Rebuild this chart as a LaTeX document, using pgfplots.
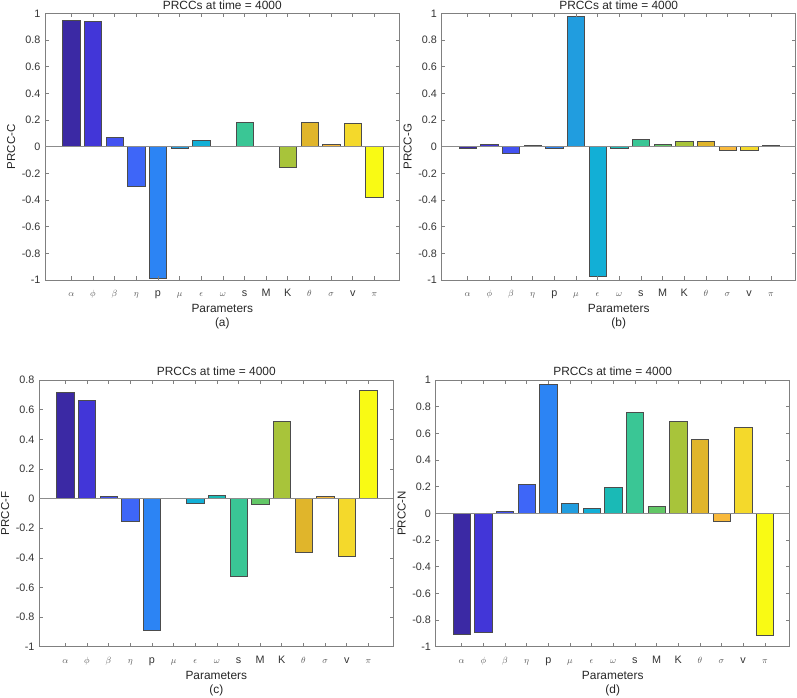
\documentclass[border=0pt]{standalone}
\usepackage{pgfplots}
\pgfplotsset{compat=1.18}
\usepackage{fontspec}
\setmainfont{Liberation Sans}

\definecolor{c1}{HTML}{3B29A4}
\definecolor{c2}{HTML}{4236D8}
\definecolor{c3}{HTML}{4352F1}
\definecolor{c4}{HTML}{3E66F8}
\definecolor{c5}{HTML}{2C84F4}
\definecolor{c6}{HTML}{219DDF}
\definecolor{c7}{HTML}{12AFD6}
\definecolor{c8}{HTML}{1ABAB6}
\definecolor{c9}{HTML}{3AC695}
\definecolor{c10}{HTML}{62C766}
\definecolor{c11}{HTML}{A8C43A}
\definecolor{c12}{HTML}{E0B52B}
\definecolor{c13}{HTML}{F8B93C}
\definecolor{c14}{HTML}{F4D92B}
\definecolor{c15}{HTML}{F9FA14}

\newcommand\gk[1]{{\fontsize{9.5}{9.5}\selectfont\color{black!65}$#1$}}
\newcommand\br[3]{\addplot[ybar, bar width=0.8, bar shift=0pt, fill=#1, draw=black!70, line width=0.5pt] coordinates {(#2,#3)};}

\pgfplotsset{prcc/.style={
  width=354pt, height=266.6pt, scale only axis,
  anchor=south west,
  xmin=-0.2, xmax=16.15, ymin=-1, ymax=1,
  enlargelimits=false,
  axis on top,
  clip=false,
  xtick={1,...,15},
  xticklabels={\gk{\alpha},\gk{\phi},\gk{\beta},\gk{\eta},p,\gk{\mu},\gk{\epsilon},\gk{\omega},s,M,K,\gk{\theta},\gk{\sigma},v,\gk{\pi}},
  ytick={-1,-0.8,-0.6,-0.4,-0.2,0,0.2,0.4,0.6,0.8,1},
  /pgf/number format/assume math mode=true,
  tick align=inside, major tick length=3.5pt,
  axis line style={black!50, line width=0.6pt},
  every tick/.style={black!50, line width=0.6pt},
  extra y ticks={0}, extra y tick labels={},
  extra y tick style={grid=major, major grid style={black!45, line width=0.7pt}, major tick length=0pt},
  tick label style={font=\fontsize{10.8}{11}\selectfont, text=black!80},
  xticklabel style={anchor=base, yshift=-16.8pt},
  yticklabel style={anchor=east, inner sep=0pt, xshift=-4.6pt},
  title={PRCCs at time = 4000},
  every axis title shift=0pt,
  title style={font=\fontsize{11.9}{12}\selectfont, text=black!85, at={(axis description cs:0.5,1)}, anchor=base, yshift=4.2pt},
  xlabel={Parameters},
  xlabel style={font=\fontsize{11.9}{12}\selectfont, text=black!85, at={(axis description cs:0.5,0)}, anchor=base, yshift=-32.4pt},
  ylabel style={font=\fontsize{11.5}{12}\selectfont, text=black!85, at={(axis description cs:-0.0853,0.5)}, anchor=base},
}}
\newcommand\sub[1]{\node[font=\fontsize{11.9}{12}\selectfont, text=black!85, anchor=base, yshift=-46.5pt] at (axis description cs:0.5,0) {#1};}

\begin{document}
\begin{tikzpicture}
% (a)
\begin{axis}[prcc, at={(45.3pt,418pt)}, ylabel={PRCC-C}]
\br{c1}{1}{0.948}
\br{c2}{2}{0.940}
\br{c3}{3}{0.072}
\br{c4}{4}{-0.295}
\br{c5}{5}{-0.985}
\br{c6}{6}{-0.015}
\br{c7}{7}{0.050}
\br{c8}{8}{0.0}
\br{c9}{9}{0.185}
\br{c10}{10}{0.0}
\br{c11}{11}{-0.155}
\br{c12}{12}{0.180}
\br{c13}{13}{0.015}
\br{c14}{14}{0.175}
\br{c15}{15}{-0.383}
\sub{(a)}
\end{axis}
% (b)
\begin{axis}[prcc, at={(441.7pt,418pt)}, ylabel={PRCC-G}]
\br{c1}{1}{-0.010}
\br{c2}{2}{0.020}
\br{c3}{3}{-0.052}
\br{c4}{4}{0.010}
\br{c5}{5}{-0.015}
\br{c6}{6}{0.978}
\br{c7}{7}{-0.970}
\br{c8}{8}{-0.010}
\br{c9}{9}{0.055}
\br{c10}{10}{0.015}
\br{c11}{11}{0.038}
\br{c12}{12}{0.038}
\br{c13}{13}{-0.030}
\br{c14}{14}{-0.030}
\br{c15}{15}{0.013}
\sub{(b)}
\end{axis}
% (c)
\begin{axis}[prcc, at={(39.3pt,51.3pt)}, ymax=0.8,
  ytick={-1,-0.8,-0.6,-0.4,-0.2,0,0.2,0.4,0.6,0.8}, ylabel={PRCC-F}]
\br{c1}{1}{0.717}
\br{c2}{2}{0.667}
\br{c3}{3}{0.013}
\br{c4}{4}{-0.154}
\br{c5}{5}{-0.891}
\br{c6}{6}{0.0}
\br{c7}{7}{-0.030}
\br{c8}{8}{0.024}
\br{c9}{9}{-0.522}
\br{c10}{10}{-0.037}
\br{c11}{11}{0.520}
\br{c12}{12}{-0.364}
\br{c13}{13}{0.017}
\br{c14}{14}{-0.391}
\br{c15}{15}{0.730}
\sub{(c)}
\end{axis}
% (d)
\begin{axis}[prcc, at={(435.7pt,51.3pt)}, ylabel={PRCC-N}]
\br{c1}{1}{-0.907}
\br{c2}{2}{-0.890}
\br{c3}{3}{0.018}
\br{c4}{4}{0.220}
\br{c5}{5}{0.972}
\br{c6}{6}{0.073}
\br{c7}{7}{0.035}
\br{c8}{8}{0.198}
\br{c9}{9}{0.757}
\br{c10}{10}{0.050}
\br{c11}{11}{0.694}
\br{c12}{12}{0.559}
\br{c13}{13}{-0.058}
\br{c14}{14}{0.647}
\br{c15}{15}{-0.912}
\sub{(d)}
\end{axis}
\pgfresetboundingbox
\path[use as bounding box] (0,0) rectangle (797pt,698pt);
\end{tikzpicture}
\end{document}
